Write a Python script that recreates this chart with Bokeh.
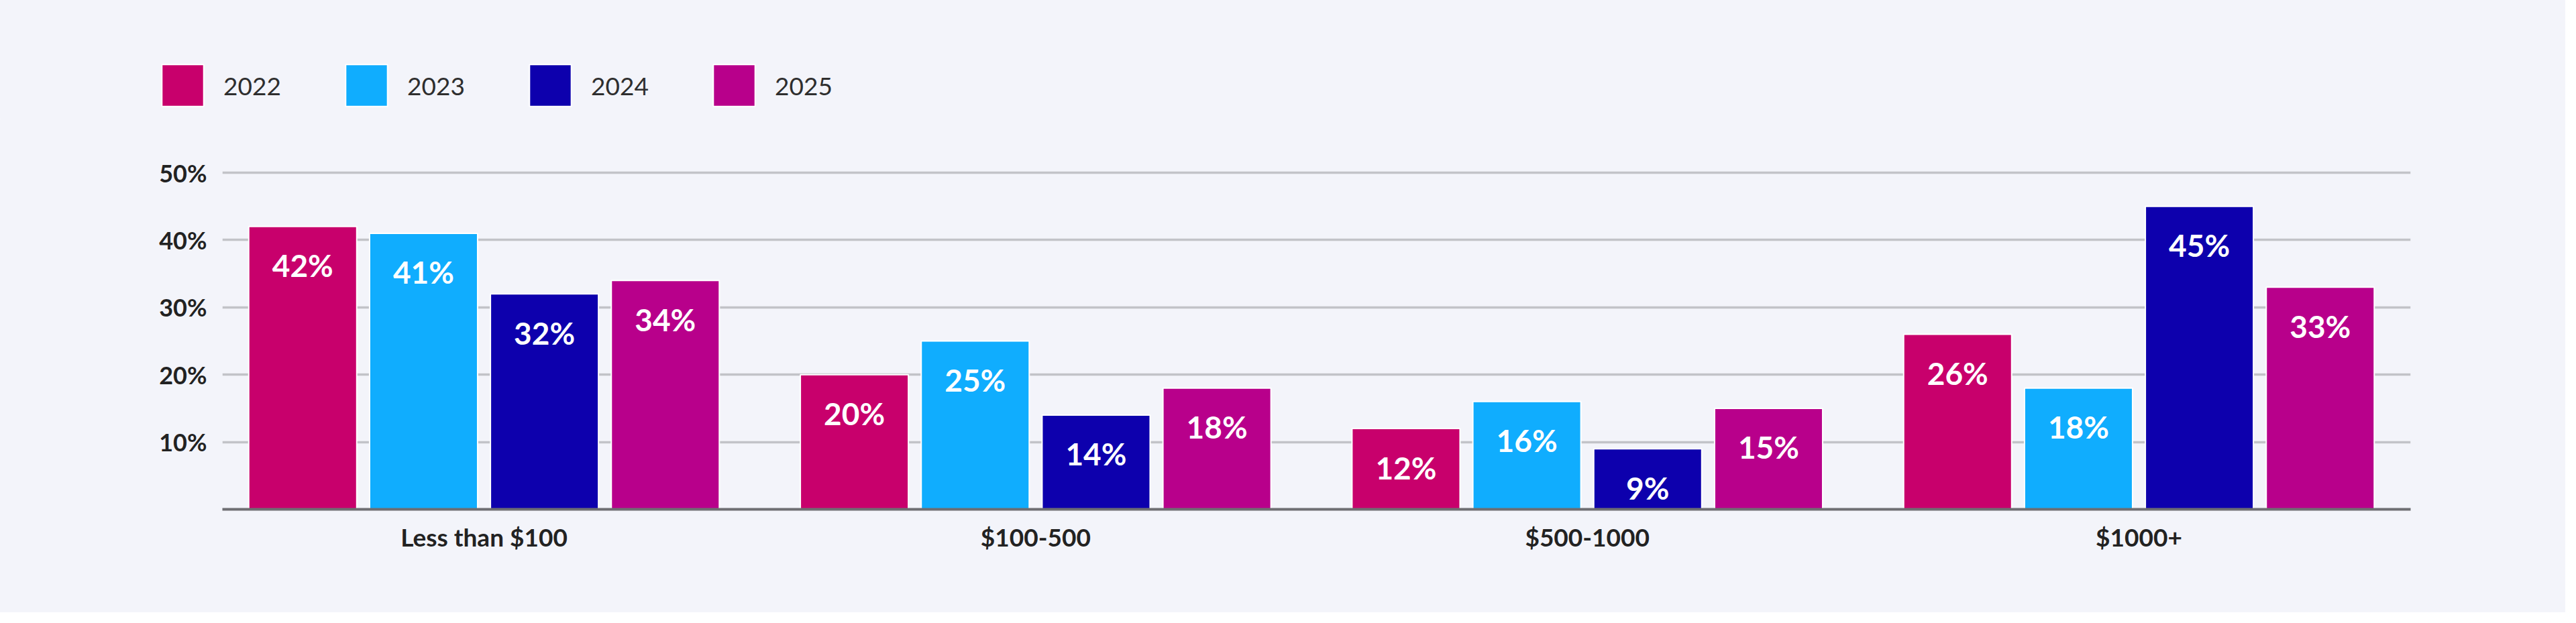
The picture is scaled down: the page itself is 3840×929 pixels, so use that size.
from bokeh.plotting import figure
from bokeh.layouts import column
from bokeh.models import (ColumnDataSource, Range1d, FixedTicker, PrintfTickFormatter,
                          Legend, LegendItem)
from bokeh.core.properties import value
from bokeh.embed import file_html
from bokeh.resources import INLINE

# ---- data ----
categories = ["Less than $100", "$100-500", "$500-1000", "$1000+"]
years = ["2022", "2023", "2024", "2025"]
v2022 = [42, 20, 12, 26]
v2023 = [41, 25, 16, 18]
v2024 = [32, 14, 9, 45]
v2025 = [34, 18, 15, 33]
y_ticks = [10, 20, 30, 40, 50]
colors = ["#c8006c", "#10adfe", "#0d00ad", "#b8008b"]

series = [v2022, v2023, v2024, v2025]
BG = "#f3f4fa"
W = 3824

# ---- legend strip (top) ----
pl = figure(width=W, height=178, output_backend="svg", toolbar_location=None,
            x_range=Range1d(0, 1), y_range=Range1d(0, 1),
            x_axis_location=None, y_axis_location=None, frame_align=False,
            min_border_left=0, min_border_right=0, min_border_top=0, min_border_bottom=0)
pl.background_fill_color = BG
pl.border_fill_color = BG
pl.outline_line_color = None
pl.xgrid.visible = False
pl.ygrid.visible = False

items = []
for yr, col in zip(years, colors):
    # swatch renderer for the legend only (its single point lies outside the visible range)
    r = pl.vbar(x=[-5], top=[0], width=0.1, fill_color=col, line_color="white", line_width=2)
    items.append(LegendItem(label=yr, renderers=[r]))

legend = Legend(items=items, orientation="horizontal", location=(233, 12),
                glyph_width=78, glyph_height=78, label_standoff=22, spacing=0,
                label_width=174, padding=0, margin=0,
                background_fill_alpha=0, border_line_alpha=0,
                label_text_font="Lato", label_text_font_size="37px",
                label_text_color="#2e2e2e")
pl.add_layout(legend)

# ---- main chart ----
p = figure(width=W, height=735, output_backend="svg", toolbar_location=None,
           x_range=Range1d(-0.4743, 3.4925), y_range=Range1d(0, 55.88),
           frame_align=False,
           min_border_left=331, min_border_right=231, min_border_top=20,
           min_border_bottom=154)
p.background_fill_color = BG
p.border_fill_color = BG
p.outline_line_color = None

bar_w = 0.1958
step = 0.2191
offsets = [-1.5 * step, -0.5 * step, 0.5 * step, 1.5 * step]

for yr, vals, col, off in zip(years, series, colors, offsets):
    xs = [i + off for i in range(len(categories))]
    src = ColumnDataSource(dict(x=xs, top=vals, lab=[f"{v}%" for v in vals]))
    p.vbar(x="x", top="top", width=bar_w, bottom=0, source=src,
           fill_color=col, line_color="white", line_width=2)
    p.text(x="x", y="top", text="lab", source=src, text_align="center",
           text_baseline="alphabetic", y_offset=58, text_color="white",
           text_font=value("Lato"), text_font_style="bold", text_font_size="46px")

# y axis
p.yaxis.ticker = FixedTicker(ticks=y_ticks)
p.yaxis.formatter = PrintfTickFormatter(format="%d%%")
p.yaxis.axis_line_color = None
p.yaxis.major_tick_line_color = None
p.yaxis.minor_tick_line_color = None
p.yaxis.major_label_standoff = 17
p.yaxis.major_label_text_font = "Lato"
p.yaxis.major_label_text_font_style = "bold"
p.yaxis.major_label_text_font_size = "36px"
p.yaxis.major_label_text_color = "#222222"

p.ygrid.ticker = FixedTicker(ticks=y_ticks)
p.ygrid.grid_line_color = "#c2c3c8"
p.ygrid.grid_line_width = 3.5
p.xgrid.grid_line_color = None

# x axis
p.xaxis.ticker = FixedTicker(ticks=list(range(len(categories))))
p.xaxis.major_label_overrides = {i: c for i, c in enumerate(categories)}
p.xaxis.axis_line_color = "#6e6e72"
p.xaxis.axis_line_width = 4
p.xaxis.major_tick_line_color = None
p.xaxis.minor_tick_line_color = None
p.xaxis.major_label_standoff = 12
p.xaxis.major_label_text_font = "Lato"
p.xaxis.major_label_text_font_style = "bold"
p.xaxis.major_label_text_font_size = "37px"
p.xaxis.major_label_text_color = "#222222"

layout = column(pl, p, spacing=0, styles={"background-color": BG})
open("out.html", "w").write(file_html(layout, INLINE))
